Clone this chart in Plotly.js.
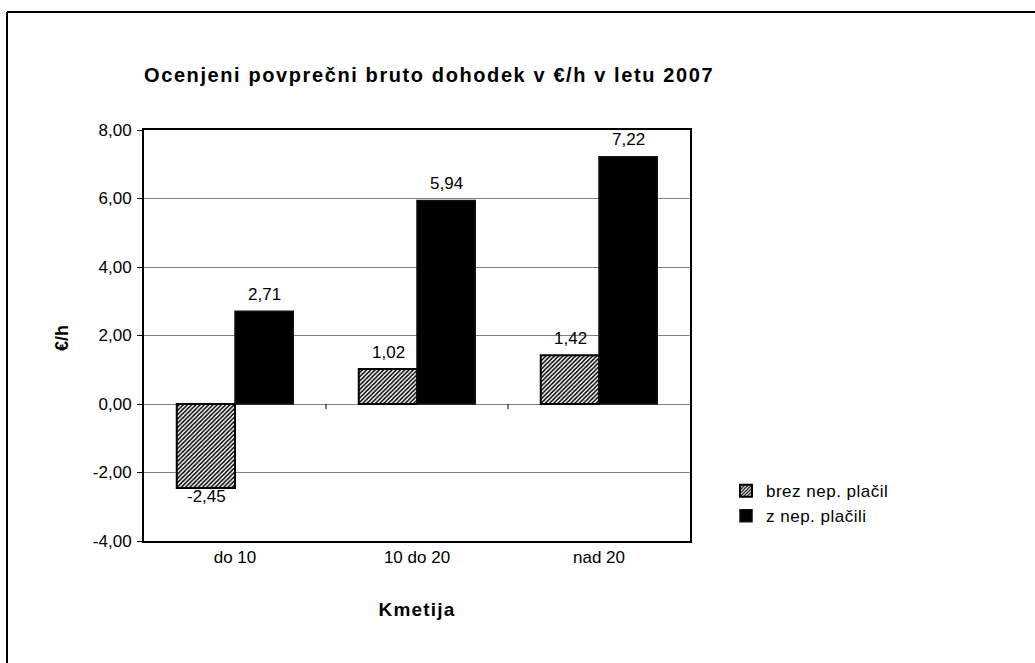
<!DOCTYPE html>
<html>
<head>
<meta charset="utf-8">
<script src="https://cdn.plot.ly/plotly-3.0.1.min.js"></script>
<style>
html,body{margin:0;padding:0;background:#fff;}
#chart{width:1035px;height:663px;}
.gtitle{letter-spacing:1.6px;}
.legendtext{letter-spacing:0.5px;}
.xtitle{letter-spacing:1.2px;}
</style>
</head>
<body>
<div id="chart"></div>
<script>
const categories = ['do 10', '10 do 20', 'nad 20'];
const brezNepPlacil = [-2.45, 1.02, 1.42];
const zNepPlacili = [2.71, 5.94, 7.22];
const seriesNames = ['brez nep. plačil', 'z nep. plačili'];
const yTicks = [-4, -2, 0, 2, 4, 6, 8];

const FONT = 'Liberation Sans, Arial, sans-serif';
const fmt = v => v.toFixed(2).replace('.', ',');

const traces = [
  {
    type: 'bar', name: seriesNames[0], x: categories, y: brezNepPlacil,
    marker: {color: '#ffffff', line: {color: '#000000', width: 2},
      pattern: {shape: '/', fgcolor: '#000000', bgcolor: '#ffffff', size: 3, solidity: 0.5}}
  },
  {
    type: 'bar', name: seriesNames[1], x: categories, y: zNepPlacili,
    marker: {color: '#000000', line: {color: '#111111', width: 1.5}}
  }
];

const annotations = [];
[[brezNepPlacil, -29], [zNepPlacili, 29]].forEach(([vals, dx]) => {
  vals.forEach((v, i) => {
    annotations.push({x: categories[i], y: v, xref: 'x', yref: 'y', text: fmt(v), showarrow: false,
      xshift: dx, yshift: v >= 0 ? 17 : -9, xanchor: 'center', yanchor: 'middle',
      font: {family: FONT, size: 17, color: '#000'}});
  });
});
annotations.push({x: (62 - 144) / 546, y: (541 - 338) / 411, xref: 'paper', yref: 'paper',
  text: '<b>€/h</b>', textangle: -90, showarrow: false, xanchor: 'center', yanchor: 'middle',
  font: {family: FONT, size: 18, color: '#000'}});

const layout = {
  width: 1035, height: 663,
  margin: {l: 144, r: 345, t: 130, b: 122},
  paper_bgcolor: '#ffffff', plot_bgcolor: '#ffffff',
  font: {family: FONT, size: 17, color: '#000'},
  barmode: 'group', bargap: 0.36, bargroupgap: 0,
  title: {text: '<b>Ocenjeni povprečni bruto dohodek v €/h v letu 2007</b>',
    font: {family: FONT, size: 20, color: '#000'},
    xref: 'paper', x: 0, xanchor: 'left', yref: 'container', y: 1 - 75/663, yanchor: 'middle'},
  xaxis: {
    showgrid: false, zeroline: false, ticks: '', showline: true, linecolor: '#000', linewidth: 2, mirror: true,
    tickfont: {family: FONT, size: 17},
    title: {text: '<b>Kmetija</b>', font: {family: FONT, size: 19}, standoff: 36}
  },
  yaxis: {
    range: [-4, 8], tickvals: yTicks, ticktext: yTicks.map(fmt), showgrid: true, gridcolor: '#808080', gridwidth: 1,
    zeroline: true, zerolinecolor: '#808080', zerolinewidth: 1,
    showline: true, linecolor: '#000', linewidth: 2, mirror: true,
    ticks: 'outside', ticklen: 5, tickcolor: '#000', tickwidth: 1,
    tickfont: {family: FONT, size: 17}, ticklabelstandoff: 2
  },
  legend: {x: (726 - 144) / 546, y: 0.165, xanchor: 'left', yanchor: 'top', bgcolor: 'rgba(0,0,0,0)',
    font: {family: FONT, size: 17}, itemwidth: 30},
  showlegend: true,
  annotations: annotations,
  shapes: [
    {type: 'line', xref: 'x', yref: 'y', x0: 0.5, x1: 0.5, y0: 0, y1: -0.15, line: {color: '#000', width: 1}},
    {type: 'line', xref: 'x', yref: 'y', x0: 1.5, x1: 1.5, y0: 0, y1: -0.15, line: {color: '#000', width: 1}},
    {type: 'line', xref: 'paper', yref: 'paper', x0: (7-144)/546, x1: (1035-144)/546, y0: (541-12)/411, y1: (541-12)/411, line: {color: '#000', width: 2}},
    {type: 'line', xref: 'paper', yref: 'paper', x0: (7-144)/546, x1: (7-144)/546, y0: (541-12)/411, y1: (541-663)/411, line: {color: '#000', width: 2}}
  ]
};

Plotly.newPlot('chart', traces, layout, {displayModeBar: false, staticPlot: true});
</script>
</body>
</html>
